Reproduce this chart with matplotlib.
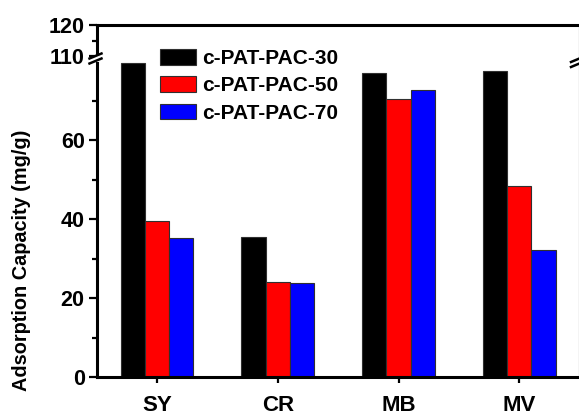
import matplotlib
matplotlib.use('Agg')
import matplotlib.pyplot as plt
import numpy as np
from matplotlib.patches import Patch, Rectangle
from matplotlib.lines import Line2D

categories = ['SY', 'CR', 'MB', 'MV']
series_names = ['c-PAT-PAC-30', 'c-PAT-PAC-50', 'c-PAT-PAC-70']
pac30 = [79.6, 35.6, 77.0, 77.6]
pac50 = [39.6, 24.2, 70.4, 48.4]
pac70 = [35.2, 23.8, 72.7, 32.2]
series_values = [pac30, pac50, pac70]
colors = ['#000000', '#ff0000', '#0000ff']
lower_ticks = [0, 20, 40, 60]
lower_minor = [10, 30, 50, 70]
upper_ticks = [110, 120]
upper_minor = [115]
ylabel = 'Adsorption Capacity (mg/g)'

plt.rcParams['font.family'] = ['Liberation Sans', 'DejaVu Sans']
plt.rcParams['font.weight'] = 'bold'

W, H = 579, 416
fig = plt.figure(figsize=(W / 100, H / 100), dpi=100)


def fx(px):
    return px / W


def fy(py):
    return 1 - py / H


x_left, x_right = 96.5, 578.5
y0, ybrk, ytop = 377.3, 59.0, 25.0

axl = fig.add_axes([fx(x_left), fy(y0), fx(x_right) - fx(x_left), fy(ybrk) - fy(y0)])
axu = fig.add_axes([fx(x_left), fy(ybrk), fx(x_right) - fx(x_left), fy(ytop) - fy(ybrk)])

x = np.arange(len(categories))
bw = 0.2
offsets = [-bw, 0, bw]
for ax in (axl, axu):
    for vals, c, off, name in zip(series_values, colors, offsets, series_names):
        ax.bar(x + off, vals, width=bw, color=c, edgecolor='#303030', linewidth=0.8, label=name)
    ax.set_xlim(-0.5, 3.49)
    ax.spines['left'].set_linewidth(2.2)
    ax.spines['right'].set_color('#c8c8c8')
    ax.spines['right'].set_linewidth(1.0)
    ax.tick_params(axis='y', which='major', direction='out', length=6, width=1.6,
                   labelsize=15.5, pad=2.5)
    ax.tick_params(axis='y', which='minor', direction='out', length=3.5, width=1.6)
    ax.tick_params(axis='y', right=False, which='both')

axl.set_ylim(0, (y0 - ybrk) / 3.95)
axl.set_yticks(lower_ticks)
axl.set_yticks(lower_minor, minor=True)
axl.spines['top'].set_visible(False)
axl.spines['bottom'].set_linewidth(2.2)
axl.set_xticks(x)
axl.set_xticklabels(categories)
axl.tick_params(axis='x', direction='out', length=4.5, width=1.6, labelsize=16, pad=8)

axu.set_ylim(120 - (ybrk - ytop) / 3.14, 120)
axu.set_yticks(upper_ticks)
axu.set_yticks(upper_minor, minor=True)
axu.spines['bottom'].set_visible(False)
axu.spines['top'].set_linewidth(2.2)
axu.set_xticks([])

for ax in (axl, axu):
    for t in ax.get_yticklabels() + ax.get_xticklabels():
        t.set_fontweight('bold')

# break marks
def brk(xc, yc):
    fig.add_artist(Rectangle((fx(xc - 3), fy(yc + 3)), fx(6), 6 / H, transform=fig.transFigure,
                             facecolor='white', edgecolor='none', zorder=10))
    for dy in (-2.5, 2.5):
        fig.add_artist(Line2D([fx(xc - 6), fx(xc + 6)], [fy(yc + dy + 2.5), fy(yc + dy - 2.5)],
                              transform=fig.transFigure, color='black', lw=1.8, zorder=11))

brk(95.5, 58.5)
brk(577, 62)

handles = [Patch(facecolor=c, edgecolor='#303030', linewidth=0.8) for c in colors]
fig.legend(handles, series_names, loc='upper left', bbox_to_anchor=(fx(160), fy(49)),
           frameon=False, handlelength=1.72, handleheight=0.77,
           handletextpad=0.29, labelspacing=0.40, borderpad=0, borderaxespad=0,
           prop={'weight': 'bold', 'size': 15})

fig.text(fx(22), fy(260), ylabel, rotation=90, ha='center', va='center',
         fontsize=14.3, fontweight='bold')

fig.savefig('out.png', dpi=100)
